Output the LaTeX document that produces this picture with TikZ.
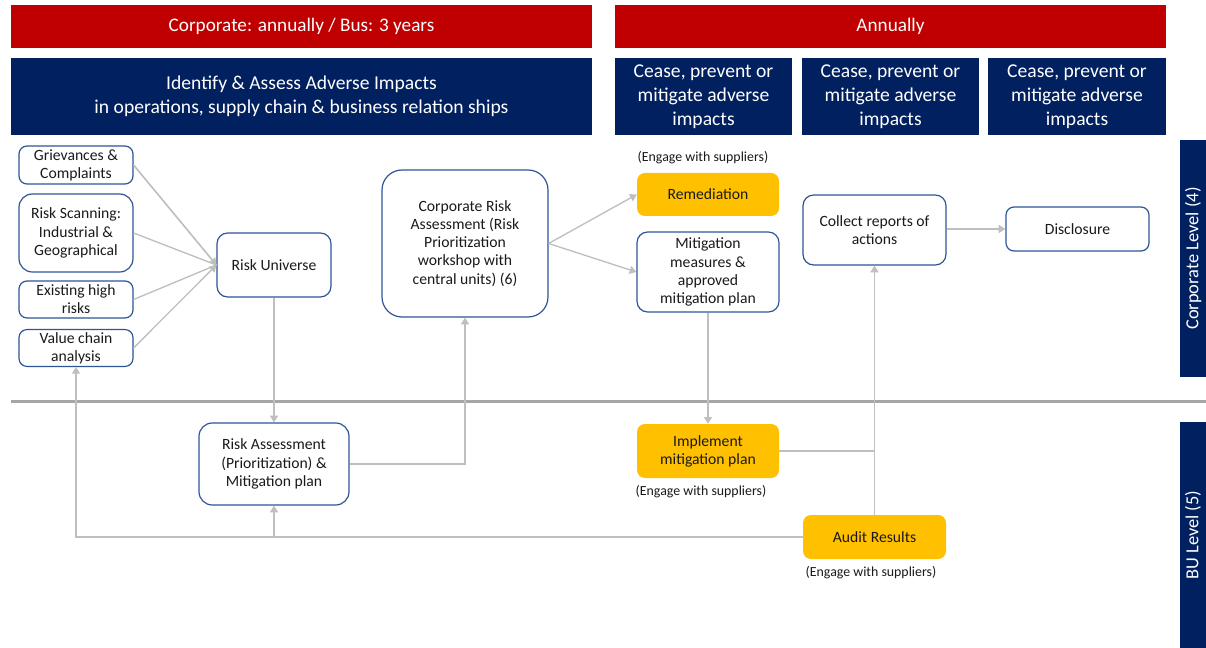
\documentclass[tikz,border=0pt]{standalone}
\usepackage{fontspec}
\setmainfont{Carlito}
\usetikzlibrary{arrows.meta}
\definecolor{hred}{HTML}{C00000}
\definecolor{hnavy}{HTML}{002060}
\definecolor{bblue}{HTML}{2F5597}
\definecolor{lgray}{HTML}{BFBFBF}
\definecolor{sepgray}{HTML}{A6A6A6}
\definecolor{gold}{HTML}{FFC000}
\definecolor{txt}{HTML}{1A1A1A}
\tikzset{
  box/.style={draw=bblue, line width=0.9pt, rounded corners=6pt, fill=white, align=center, text=txt,
    font=\fontsize{11.75}{13.6}\selectfont, inner sep=2pt},
  gbox/.style={fill=gold, rounded corners=6pt, align=center, text=txt,
    font=\fontsize{11.75}{13.6}\selectfont, inner sep=2pt},
  hdr/.style={fill=hnavy, text=white, align=center, font=\fontsize{14.7}{17.8}\selectfont, inner sep=2pt},
  redbar/.style={fill=hred, text=white, align=center, font=\fontsize{14.4}{17}\selectfont, inner sep=2pt},
  side/.style={fill=hnavy, text=white, rotate=90, font=\fontsize{13.8}{16}\selectfont, inner sep=2pt, minimum height=19.5pt},
  note/.style={text=txt, font=\fontsize{10.4}{12}\selectfont, inner sep=0pt},
  conn/.style={draw=lgray, line width=1pt},
  arr/.style={conn, -{Triangle[width=6pt,length=5pt]}, color=lgray}
}
\begin{document}
\begin{tikzpicture}[x=0.75pt,y=-0.75pt]
\useasboundingbox (0,0) rectangle (1206,648);
\fill[white] (0,0) rectangle (1206,648);

% header bars
\node[redbar, minimum width=435.75pt, minimum height=32.25pt] (r1) at (301.5,26.5) {Corporate: annually / Bus: 3 years};
\node[redbar, minimum width=413.25pt, minimum height=32.25pt] (r2) at (890.5,26.5) {Annually};
\node[hdr, minimum width=435.75pt, minimum height=57.75pt] (h1) at (301.5,96.5) {Identify \& Assess Adverse Impacts\\in operations, supply chain \& business relation ships};
\node[hdr, minimum width=132.75pt, minimum height=57.75pt] (h2) at (703.5,96.5) {Cease, prevent or\\mitigate adverse\\impacts};
\node[hdr, minimum width=132.75pt, minimum height=57.75pt] (h3) at (890.5,96.5) {Cease, prevent or\\mitigate adverse\\impacts};
\node[hdr, minimum width=133.5pt, minimum height=57.75pt] (h4) at (1077,96.5) {Cease, prevent or\\mitigate adverse\\impacts};

% side labels
\node[side, minimum width=177.75pt] (s1) at (1193,258.5) {Corporate Level (4)};
\node[side, minimum width=169.5pt] (s2) at (1193,535) {BU Level (5)};

% separator
\draw[sepgray, line width=2.25pt] (11,401) -- (1206,401);

% corporate-level nodes
\node[box, minimum width=85.5pt, minimum height=28.5pt] (griev) at (76,165) {Grievances \&\\Complaints};
\node[box, rounded corners=10pt, minimum width=85.5pt, minimum height=58.5pt] (scan) at (76,233) {Risk Scanning:\\Industrial \&\\Geographical};
\node[box, minimum width=85.5pt, minimum height=27.75pt] (exist) at (76,299.5) {Existing high\\risks};
\node[box, minimum width=85.5pt, minimum height=27pt] (vca) at (76,348) {Value chain\\analysis};
\node[box, rounded corners=8pt, minimum width=85.5pt, minimum height=48pt] (ru) at (274,265) {Risk Universe};
\node[box, rounded corners=15pt, minimum width=124.5pt, minimum height=110.25pt] (cra) at (465,243.5) {Corporate Risk\\Assessment (Risk\\Prioritization\\workshop with\\central units) (6)};
\node[gbox, minimum width=106.5pt, minimum height=32.25pt] (rem) at (708,194.5) {Remediation};
\node[note] (n1) at (703,158) {(Engage with suppliers)};
\node[box, rounded corners=8pt, minimum width=106.5pt, minimum height=60pt] (mit) at (708,272) {Mitigation\\measures \&\\approved\\mitigation plan};
\node[box, rounded corners=8pt, minimum width=107.25pt, minimum height=52.5pt] (coll) at (874.5,230) {Collect reports of\\actions};
\node[box, minimum width=107.25pt, minimum height=33pt] (disc) at (1077.5,229) {Disclosure};

% BU-level nodes
\node[box, rounded corners=10pt, minimum width=112.5pt, minimum height=61.5pt] (ra) at (274,464) {Risk Assessment\\(Prioritization) \&\\Mitigation plan};
\node[gbox, minimum width=106.5pt, minimum height=40.5pt] (impl) at (708,451) {Implement\\mitigation plan};
\node[note] (n2) at (701,492) {(Engage with suppliers)};
\node[gbox, minimum width=107.25pt, minimum height=33pt] (audit) at (874.5,537) {Audit Results};
\node[note] (n3) at (871,573) {(Engage with suppliers)};

% connectors
\coordinate (ruin) at (ru.west);
\draw[conn] (griev.east) -- (ruin);
\draw[conn] (scan.east) -- (ruin);
\draw[conn] (exist.east) -- (ruin);
\draw[arr] (vca.east) -- (ruin);
\draw[arr] (griev.east) -- (ruin);
\draw[arr] (ru.south) -- (ra.north);
\draw[arr] (ra.east) -| (cra.south);
\draw[arr] (cra.east) -- (rem.west);
\draw[arr] (cra.east) -- (mit.west);
\draw[arr] (mit.south) -- (impl.north);
\draw[arr] (audit.north) -- (coll.south);
\draw[conn] (impl.east) -- (impl.east -| coll.south);
\draw[arr] (coll.east |- disc.west) -- (disc.west);
\coordinate (bl) at (audit.west -| vca.south);
\coordinate (br) at (audit.west -| ra.south);
\draw[arr] (audit.west) -- (bl) -- (vca.south);
\draw[arr] (br) -- (ra.south);
\end{tikzpicture}
\end{document}
